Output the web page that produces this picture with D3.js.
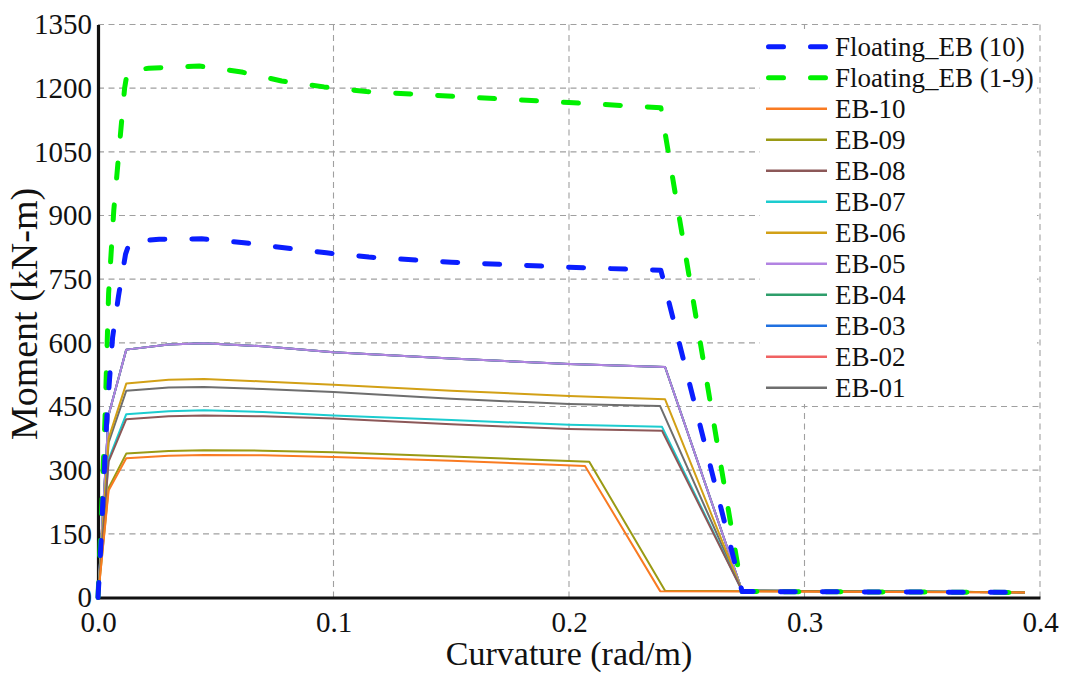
<!DOCTYPE html>
<html>
<head>
<meta charset="utf-8">
<script src="https://cdn.jsdelivr.net/npm/d3@7"></script>
<style>
  html, body { margin: 0; padding: 0; background: #fff; }
  svg { display: block; }
  svg text { font-family: "Liberation Serif", "Times New Roman", serif; }
</style>
</head>
<body>
<svg id="chart" width="1067" height="674"></svg>
<script>
// Moment–curvature response: [curvature (rad/m), moment (kN-m)]
const floatingEB10 = [[0,0],[0.0014,142],[0.002,222],[0.0028,310],[0.0038,430],[0.0062,613],[0.0087,710],[0.0117,809],[0.0135,838],[0.026,844],[0.044,845],[0.062,836],[0.079,824],[0.097,812],[0.115,802],[0.15,790],[0.2,778],[0.239,771],[0.2735,14],[0.39,12]];
const floatingEB19 = [[0,0],[0.0017,230],[0.003,425],[0.0039,600],[0.0045,716],[0.0067,912],[0.0098,1108],[0.0113,1200],[0.0125,1240],[0.0215,1247],[0.043,1252],[0.061,1238],[0.078,1217],[0.096,1203],[0.114,1192],[0.16,1178],[0.2,1166],[0.239,1154],[0.2735,14],[0.39,12]];
const eb10 = [[0,0],[0.0045,252],[0.012,328],[0.03,334],[0.045,336],[0.07,335],[0.1,331],[0.15,322],[0.2068,310],[0.2387,15],[0.3936,12]];
const eb09 = [[0,0],[0.0045,258],[0.012,339],[0.03,345],[0.045,347],[0.07,346],[0.1,342],[0.15,332],[0.2086,320],[0.2408,16],[0.3936,12]];
const eb08 = [[0,0],[0.0045,320],[0.012,420],[0.03,427],[0.045,429],[0.07,427],[0.1,422],[0.15,408],[0.2,397],[0.2395,393],[0.2735,16],[0.3936,12]];
const eb07 = [[0,0],[0.0045,325],[0.012,432],[0.03,439],[0.045,441],[0.07,437],[0.1,429],[0.15,418],[0.2,407],[0.2395,402],[0.2735,16],[0.3936,12]];
const eb06 = [[0,0],[0.0045,375],[0.012,504],[0.03,513],[0.045,515],[0.07,509],[0.1,501],[0.15,487],[0.2,475],[0.2408,467],[0.2735,16],[0.3936,12]];
const eb05 = [[0,0],[0.0045,430],[0.012,584],[0.03,596],[0.045,599],[0.07,592],[0.1,578],[0.15,563],[0.2,550],[0.2408,543],[0.2735,16],[0.3936,12]];
const eb04 = [[0,0],[0.0045,430],[0.012,584],[0.03,596],[0.045,599],[0.07,592],[0.1,578],[0.15,563],[0.2,550],[0.2408,543],[0.2735,16],[0.3936,12]];
const eb03 = [[0,0],[0.0045,430],[0.012,584],[0.03,596],[0.045,599],[0.07,592],[0.1,578],[0.15,563],[0.2,550],[0.2408,543],[0.2735,16],[0.3936,12]];
const eb02 = [[0,0],[0.0045,430],[0.012,584],[0.03,596],[0.045,599],[0.07,592],[0.1,578],[0.15,563],[0.2,550],[0.2408,543],[0.2735,16],[0.3936,12]];
const eb01 = [[0,0],[0.0045,365],[0.012,487],[0.03,495],[0.045,496],[0.07,491],[0.1,484],[0.15,468],[0.2,456],[0.2387,451],[0.2735,16],[0.3936,12]];

const xTicks = [0, 0.1, 0.2, 0.3, 0.4];
const xTickLabels = ["0.0", "0.1", "0.2", "0.3", "0.4"];
const yTicks = [0, 150, 300, 450, 600, 750, 900, 1050, 1200, 1350];

const seriesNames = ["Floating_EB (10)", "Floating_EB (1-9)", "EB-10", "EB-09", "EB-08", "EB-07", "EB-06", "EB-05", "EB-04", "EB-03", "EB-02", "EB-01"];
const seriesData = [floatingEB10, floatingEB19, eb10, eb09, eb08, eb07, eb06, eb05, eb04, eb03, eb02, eb01];
const seriesColors = ["#0a1eff", "#00f000", "#f97b22", "#9a9a14", "#8c5858", "#1ccccf", "#d2a016", "#b283e2", "#2e9e6b", "#2070e0", "#f06262", "#6e6e6e"];
const seriesDashed = [true, true, false, false, false, false, false, false, false, false, false, false];

const svg = d3.select("#chart");
const x = d3.scaleLinear().domain([0, 0.4]).range([98, 1040]);
const y = d3.scaleLinear().domain([0, 1350]).range([597.5, 24.5]);

// grid
const grid = svg.append("g").attr("stroke", "#a0a0a0").attr("stroke-width", 1.1).attr("stroke-dasharray", "6,4.5");
grid.selectAll("line.h").data(yTicks.filter(d => d > 0)).join("line")
  .attr("x1", x(0)).attr("x2", x(0.4)).attr("y1", d => y(d)).attr("y2", d => y(d));
grid.selectAll("line.v").data(xTicks.filter(d => d > 0)).join("line")
  .attr("x1", d => x(d)).attr("x2", d => x(d)).attr("y1", y(1350)).attr("y2", y(0));

// legend backdrop hides the grid behind it
svg.append("rect").attr("x", 760).attr("y", 29).attr("width", 277).attr("height", 375).attr("fill", "#fff");

// axes
const xAxis = d3.axisBottom(x).tickValues(xTicks).tickFormat((d, i) => xTickLabels[i]).tickSize(0).tickPadding(14);
const yAxis = d3.axisLeft(y).tickValues(yTicks).tickFormat(d3.format("d")).tickSize(0).tickPadding(6);

const gx = svg.append("g").attr("transform", `translate(0,${y(0)})`).call(xAxis);
const gy = svg.append("g").attr("transform", `translate(${x(0)},0)`).call(yAxis);
[gx, gy].forEach(g => {
  g.attr("font-family", null).attr("font-size", null);
  g.select(".domain").attr("stroke", "#111").attr("stroke-width", 3.2);
  g.selectAll("text")
    .style("font-family", "'Liberation Serif', 'Times New Roman', serif")
    .style("font-size", "29px").attr("fill", "#111");
});

// series (drawn from last legend entry to first so the upper ones sit on top)
const line = d3.line().x(d => x(d[0])).y(d => y(d[1]));
const plot = svg.append("g").attr("fill", "none");
for (let i = seriesData.length - 1; i >= 0; i--) {
  const p = plot.append("path").datum(seriesData[i]).attr("d", line)
    .attr("stroke", seriesColors[i]);
  if (seriesDashed[i]) {
    p.attr("stroke-width", 5).attr("stroke-dasharray", "15,27").attr("stroke-linecap", "round").attr("stroke-linejoin", "round");
  } else {
    p.attr("stroke-width", 2).attr("stroke-linejoin", "round");
  }
}

// axis titles
svg.append("text").attr("x", x(0.2)).attr("y", 665).attr("text-anchor", "middle")
  .style("font-size", "34px").attr("fill", "#111").text("Curvature (rad/m)");
svg.append("text").attr("transform", "translate(37,314) rotate(-90)")
  .attr("text-anchor", "middle").style("font-size", "38px").attr("fill", "#111").text("Moment (kN-m)");

// legend
const legend = svg.append("g");
seriesNames.forEach((name, i) => {
  const yy = 46.7 + i * 31;
  const l = legend.append("line").attr("x1", 766).attr("x2", 827).attr("y1", yy).attr("y2", yy)
    .attr("stroke", seriesColors[i]);
  if (seriesDashed[i]) {
    l.attr("stroke-width", 5).attr("stroke-dasharray", "15,27").attr("stroke-dashoffset", -2.5).attr("stroke-linecap", "round");
  } else {
    l.attr("stroke-width", 2.5);
  }
  legend.append("text").attr("x", 835).attr("y", yy).attr("dy", "0.35em")
    .style("font-size", "27px").attr("fill", "#111").text(name);
});
</script>
</body>
</html>
